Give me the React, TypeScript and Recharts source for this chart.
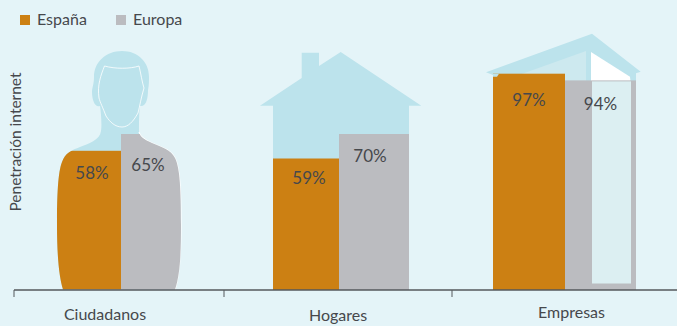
import React from 'react';
import { BarChart, Bar, XAxis, YAxis, LabelList, Label } from 'recharts';

const categories = ['Ciudadanos', 'Hogares', 'Empresas'];
const espana = [58, 59, 97];
const europa = [65, 70, 94];
const seriesNames = ['España', 'Europa'];
const axisTitle = 'Penetración internet';

const W = 677;
const H = 326;
const FONT = 'Lato, "Noto Sans", sans-serif';
const BG = '#e4f4f8';
const ORANGE = '#cc8013';
const GREY = '#bbbcc0';
const ICON = '#bce3ec';
const TEXT = '#46484c';

const personOutline =
  'M122 51 C138 51 149 62 149 77 C149 81 149 85 148 90 C148 99 146 107 140 106 C139 112 139 124 139 132 C140 137 145 140 152 143 C162 147 171 150 175 158 C180 168 181 190 181 225 C181 255 180 275 175 289.5 L63 289.5 C59 277 57 255 57 225 C57 195 58 172 62 162 C65 153 72 150 80 147 C88 144 100 140 101 131 C102 125 101 112 100 106 C95 108 92 100 92 92 C92 88 94 84 94 77 C94 62 106 51 122 51 Z';
const shoulderEdge =
  'M139 132 C140 137 145 140 152 143 C162 147 171 150 175 158 C180 168 181 190 181 225 C181 255 180 275 175 289.5';
const faceOutline =
  'M99 98 C97 85 101 75 104.5 66 C115 69 130 69 139 66 C141 74 142 82 144 88 C141 98 140 105 138 113 C133 122 128 127 122 127 C115 127 110 122 106 116 C103 108 100 102 99 98';
const houseOutline =
  '301.7,52.7 319,52.7 319,66 340.7,52 421.3,105.7 409,105.7 409,290 273,290 273,105.7 260,105.7 301.7,78';
const roofOutline = '486,72.3 592,33.7 640.7,71.7 636,73.3 636,84 565,84 565,75 493,75';
const roofInner = '521.7,74 586,51 586,84 565,84 565,74';
const roofGap = '591,52 630,76.7 630.7,83 591,83';

type Panel = {
  index: number;
  left: number;
  right: number;
  top: number;
  pad: number;
  sizes: [number, number];
  labelDy: [number, number];
  labelDx: [number, number];
  tickDx: number;
  tickDy: number;
};

const panels: Panel[] = [
  { index: 0, left: 14, right: 224, top: 50, pad: 4, sizes: [64, 64], labelDy: [26, 35], labelDx: [3, -5], tickDx: -16, tickDy: 11 },
  { index: 1, left: 224, right: 452, top: 67, pad: 6, sizes: [66, 70], labelDy: [23, 26], labelDx: [3, -4], tickDx: -3, tickDy: 12 },
  { index: 2, left: 452, right: 677, top: 67, pad: 0, sizes: [72, 71], labelDy: [30, 28], labelDx: [0, 0], tickDx: 7, tickDy: 9 },
];

// Bust silhouette keeps the citizen bars inside the body shape.
const ClippedBar = (p: any) => (
  <rect x={p.x} y={p.y} width={p.width} height={p.height} fill={p.fill} clipPath="url(#person-clip)" />
);

// Building bar with the small roof notch at its top-left corner.
const NotchedBar = (p: any) => (
  <g>
    <rect x={p.x} y={p.y} width={p.width} height={p.height} fill={p.fill} />
    <polygon points={`${p.x},${p.y} ${p.x + 6},${p.y} ${p.x + 4},${p.y + 3} ${p.x},${p.y + 3}`} fill={ICON} />
  </g>
);

// Building bar with its glazed front drawn over it.
const GlazedBar = (p: any) => (
  <g>
    <rect x={p.x} y={p.y} width={p.width} height={p.height} fill={p.fill} />
    <rect x={p.x + 27} y={p.y + 1} width={39} height={p.height - 7.5} fill="#dceff2" />
  </g>
);

const shapes = [
  [ClippedBar, ClippedBar],
  [undefined, undefined],
  [NotchedBar, GlazedBar],
];

function PanelChart({ panel }: { panel: Panel }) {
  const i = panel.index;
  const rows = [{ name: categories[i], espana: espana[i], europa: europa[i] }];
  const labelStyle = { fontSize: 17, fill: TEXT, fontFamily: FONT, fontWeight: 400 };
  return (
    <div style={{ position: 'absolute', left: 0, top: 0 }}>
      <BarChart
        width={W}
        height={H}
        data={rows}
        barGap={0}
        barCategoryGap={0}
        margin={{ top: panel.top, bottom: 0, left: i === 0 ? 0 : panel.left, right: W - panel.right }}
      >
        <XAxis
          dataKey="name"
          height={36}
          padding={{ left: panel.pad, right: 0 }}
          axisLine={{ stroke: '#55585c', strokeWidth: 1.5 }}
          tickLine={false}
          tick={{ fontSize: 16, fill: TEXT, fontFamily: FONT, fontWeight: 400, dx: panel.tickDx, dy: panel.tickDy }}
          interval={0}
        />
        {i === 0 ? (
          <YAxis width={14} domain={[0, 100]} tick={false} axisLine={false} tickLine={false}>
            <Label
              value={axisTitle}
              angle={-90}
              position="center"
              dx={8}
              dy={-28}
              style={{ fontSize: 15.5, fill: TEXT, fontFamily: FONT, fontWeight: 400 }}
            />
          </YAxis>
        ) : (
          <YAxis hide domain={[0, 100]} />
        )}
        <Bar
          dataKey="espana"
          name={seriesNames[0]}
          fill={ORANGE}
          barSize={panel.sizes[0]}
          isAnimationActive={false}
          shape={shapes[i][0] as any}
        >
          <LabelList
            dataKey="espana"
            position="insideTop"
            offset={panel.labelDy[0] - 10}
            dx={panel.labelDx[0]}
            formatter={(v: any) => `${v}%`}
            style={labelStyle}
          />
        </Bar>
        <Bar
          dataKey="europa"
          name={seriesNames[1]}
          fill={GREY}
          barSize={panel.sizes[1]}
          isAnimationActive={false}
          shape={shapes[i][1] as any}
        >
          <LabelList
            dataKey="europa"
            position="insideTop"
            offset={panel.labelDy[1] - 10}
            dx={panel.labelDx[1]}
            formatter={(v: any) => `${v}%`}
            style={labelStyle}
          />
        </Bar>
      </BarChart>
    </div>
  );
}

export default function App() {
  return (
    <div style={{ position: 'absolute', left: 0, top: 0, width: W, height: H, background: BG, overflow: 'hidden' }}>
      <svg width={W} height={H} style={{ position: 'absolute', left: 0, top: 0 }}>
        <defs>
          <clipPath id="person-clip">
            <path d={personOutline} />
          </clipPath>
        </defs>
        <path d={personOutline} fill={ICON} />
        <path d={shoulderEdge} fill="none" stroke="#ffffff" strokeWidth={1.2} />
        <path d={faceOutline} fill="none" stroke="#ffffff" strokeWidth={0.8} />
        <polygon points={houseOutline} fill={ICON} />
        <polygon points={roofOutline} fill={ICON} />
        <polygon points={roofInner} fill="#cde9ef" />
        <polygon points={roofGap} fill="#ffffff" />
        {[14, 224, 452].map((x) => (
          <line key={x} x1={x} x2={x} y1={290} y2={297} stroke="#55585c" strokeWidth={1} />
        ))}
      </svg>
      {panels.map((p) => (
        <PanelChart key={p.index} panel={p} />
      ))}
      <div style={{ position: 'absolute', left: 20, top: 9, fontFamily: FONT, fontSize: 16, fontWeight: 400, color: TEXT }}>
        {seriesNames.map((name, k) => (
          <span key={name} style={{ position: 'absolute', left: k * 96, top: 0, whiteSpace: 'nowrap', lineHeight: '20px' }}>
            <span style={{ position: 'absolute', left: 0, top: 6, width: 10, height: 10, background: k === 0 ? ORANGE : GREY }} />
            <span style={{ marginLeft: 17 }}>{name}</span>
          </span>
        ))}
      </div>
    </div>
  );
}
